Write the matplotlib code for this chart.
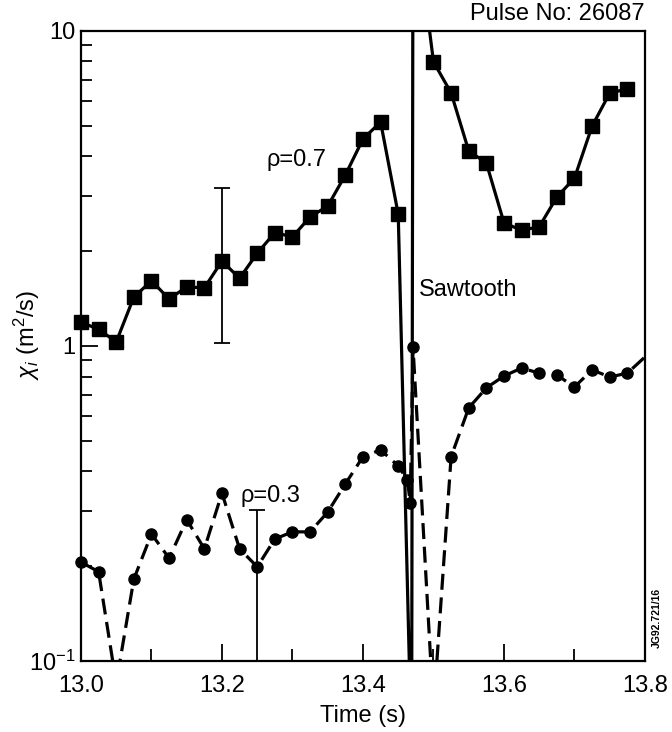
import numpy as np
import matplotlib
matplotlib.use('Agg')
import matplotlib.pyplot as plt
from matplotlib.ticker import FixedLocator, NullFormatter, FixedFormatter

plt.rcParams['font.family'] = ['Liberation Sans', 'DejaVu Sans']
plt.rcParams['mathtext.fontset'] = 'custom'
plt.rcParams['mathtext.rm'] = 'Liberation Sans'
plt.rcParams['mathtext.it'] = 'Liberation Sans:italic'

# chi_i at rho=0.7 (squares, solid line)
t_07 = [13.0, 13.025, 13.05, 13.075, 13.1, 13.125, 13.15, 13.175, 13.2, 13.225,
        13.25, 13.275, 13.3, 13.325, 13.35, 13.375, 13.4, 13.425, 13.45,
        13.469, 13.471, 13.49,
        13.5, 13.525, 13.55, 13.575, 13.6, 13.625, 13.65, 13.675, 13.7, 13.725,
        13.75, 13.775]
chi_07 = [1.19, 1.13, 1.03, 1.43, 1.61, 1.41, 1.54, 1.53, 1.86, 1.64,
          1.97, 2.29, 2.22, 2.57, 2.78, 3.49, 4.54, 5.14, 2.62,
          0.05, 30.0, 12.0,
          7.98, 6.36, 4.16, 3.81, 2.46, 2.33, 2.39, 2.97, 3.41, 4.99,
          6.35, 6.55]

# chi_i at rho=0.3 (circles, dashed line)
t_03 = [13.0, 13.025, 13.05, 13.075, 13.1, 13.125, 13.15, 13.175, 13.2, 13.225,
        13.25, 13.275, 13.3, 13.325, 13.35, 13.375, 13.4, 13.425, 13.45,
        13.463, 13.467, 13.471, 13.5,
        13.525, 13.55, 13.575, 13.6, 13.625, 13.65, 13.675, 13.7, 13.725,
        13.75, 13.775, 13.8]
chi_03 = [0.206, 0.192, 0.085, 0.182, 0.253, 0.212, 0.281, 0.227, 0.341, 0.227,
          0.199, 0.244, 0.257, 0.257, 0.297, 0.365, 0.445, 0.468, 0.416,
          0.376, 0.318, 0.99, 0.07,
          0.445, 0.636, 0.736, 0.803, 0.851, 0.820, 0.809, 0.741, 0.840,
          0.797, 0.820, 0.923]

# error bars: (time, value, lower, upper)
err_07 = (13.2, 1.86, 1.02, 3.18)
err_03 = (13.25, 0.199, 0.05, 0.301)

fig = plt.figure(figsize=(6.72, 7.32), dpi=100)
ax = fig.add_axes([0.1205, 0.097, 0.8393, 0.8607])
ax.set_yscale('log')
ax.set_xlim(13.0, 13.8)
ax.set_ylim(0.1, 10)

t7 = np.array(t_07)
c7 = np.array(chi_07)
t3 = np.array(t_03)
c3 = np.array(chi_03)

ax.plot(t7, c7, color='black', lw=2.3, solid_joinstyle='round')
ax.plot(t3, c3, color='black', lw=2.3, ls=(0, (5, 2.4)))

# markers only where the point is inside the frame, but not clipped at the spine
vis7 = (c7 > 0.1) & (c7 < 10)
vis3 = (c3 > 0.1) & (c3 < 10) & (t3 < 13.8)
ax.plot(t7[vis7], c7[vis7], ls='none', marker='s', ms=9.5, color='black', clip_on=False)
ax.plot(t3[vis3], c3[vis3], ls='none', marker='o', ms=8, color='black', clip_on=False)

for tt, val, lo, hi in (err_07, err_03):
    ax.errorbar([tt], [val], yerr=[[val - lo], [hi - val]], fmt='none',
                ecolor='black', elinewidth=1.3, capsize=6, capthick=1.3)

ax.xaxis.set_major_locator(FixedLocator([13.0, 13.2, 13.4, 13.6, 13.8]))
ax.xaxis.set_minor_locator(FixedLocator([13.1, 13.3, 13.5, 13.7]))
ax.xaxis.set_major_formatter(FixedFormatter(['13.0', '13.2', '13.4', '13.6', '13.8']))
ax.yaxis.set_major_locator(FixedLocator([0.1, 1, 10]))
ax.yaxis.set_major_formatter(FixedFormatter([r'10$^{-1}$', '1', '10']))
ax.yaxis.set_minor_locator(FixedLocator([k * 0.1 for k in range(2, 10)] + list(range(2, 10))))
ax.yaxis.set_minor_formatter(NullFormatter())

ax.tick_params(which='both', direction='in', top=False, right=False, labelsize=17, width=1.3)
ax.tick_params(which='major', length=12)
ax.tick_params(which='minor', length=9)
ax.tick_params(axis='y', which='minor', length=8)
ax.tick_params(axis='x', which='major', pad=10)
ax.tick_params(axis='y', which='major', pad=4)
for s in ax.spines.values():
    s.set_linewidth(1.6)

ax.set_xlabel('Time (s)', fontsize=17, labelpad=6)
fig.text(27 / 672, 1 - 335 / 732, r'$\chi_i$ (m$^2$/s)', fontsize=17, rotation=90,
         ha='center', va='center')

fig.text(297 / 672, 1 - 160 / 732, 'ρ=0.7', fontsize=17, ha='center', va='center')
fig.text(270 / 672, 1 - 496 / 732, 'ρ=0.3', fontsize=17, ha='center', va='center')
fig.text(419 / 672, 1 - 290 / 732, 'Sawtooth', fontsize=17, ha='left', va='center')
fig.text(645 / 672, 1 - 14 / 732, 'Pulse No: 26087', fontsize=17, ha='right', va='center')
fig.text(657 / 672, 1 - 618 / 732, 'JG92.721/16', fontsize=7.5, rotation=90,
         ha='center', va='center', fontweight='bold')

fig.savefig('out.png', dpi=100)
